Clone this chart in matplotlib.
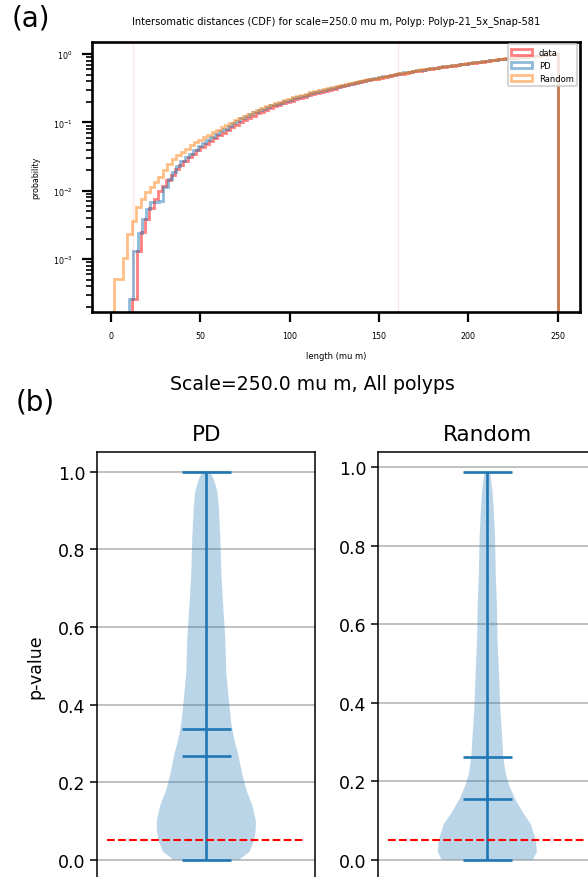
import numpy as np
import matplotlib
matplotlib.use("Agg")
import matplotlib.pyplot as plt

# ---------------- panel (a): cumulative histograms of intersomatic distances
scale_um = 250.0
names_a = ["data", "PD", "Random"]
colors_a = ["red", "tab:blue", "tab:orange"]
starts_a = [12.1, 10.2, 1.86]  # smallest distance of each sample (bins run start..scale)

cdf_data = [
    0.00026, 0.0013, 0.0025, 0.0038, 0.0056, 0.0076, 0.0098, 0.0118, 0.0145, 0.0172,
    0.0205, 0.0235, 0.027, 0.031, 0.035, 0.039, 0.044, 0.049, 0.054, 0.059,
    0.065, 0.071, 0.078, 0.085, 0.093, 0.101, 0.109, 0.117, 0.126, 0.135,
    0.144, 0.153, 0.162, 0.171, 0.180, 0.189, 0.198, 0.208, 0.218, 0.228,
    0.238, 0.248, 0.258, 0.268, 0.279, 0.290, 0.301, 0.312, 0.324, 0.336,
    0.348, 0.360, 0.373, 0.386, 0.399, 0.412, 0.425, 0.438, 0.451, 0.464,
    0.477, 0.490, 0.503, 0.516, 0.530, 0.544, 0.558, 0.572, 0.586, 0.600,
    0.613, 0.626, 0.639, 0.652, 0.665, 0.678, 0.692, 0.706, 0.720, 0.734,
    0.748, 0.762, 0.776, 0.790, 0.804, 0.818, 0.832, 0.846, 0.860, 0.874,
    0.887, 0.900, 0.913, 0.925, 0.937, 0.950, 0.962, 0.975, 0.988, 1.0,
]
cdf_pd = [
    0.00026, 0.0013, 0.0024, 0.0038, 0.0055, 0.0068, 0.0069, 0.0070, 0.0115, 0.0150,
    0.0185, 0.0230, 0.0270, 0.0310, 0.0350, 0.0395, 0.0445, 0.0495, 0.055, 0.061,
    0.067, 0.074, 0.081, 0.089, 0.097, 0.105, 0.114, 0.123, 0.132, 0.141,
    0.150, 0.159, 0.168, 0.177, 0.186, 0.195, 0.205, 0.215, 0.225, 0.235,
    0.245, 0.255, 0.265, 0.275, 0.286, 0.297, 0.308, 0.320, 0.332, 0.344,
    0.356, 0.368, 0.381, 0.394, 0.407, 0.420, 0.433, 0.446, 0.459, 0.472,
    0.485, 0.498, 0.511, 0.524, 0.537, 0.551, 0.565, 0.579, 0.593, 0.606,
    0.619, 0.632, 0.645, 0.658, 0.671, 0.684, 0.697, 0.711, 0.725, 0.739,
    0.753, 0.767, 0.781, 0.795, 0.809, 0.823, 0.837, 0.851, 0.865, 0.879,
    0.892, 0.904, 0.916, 0.928, 0.940, 0.952, 0.964, 0.976, 0.988, 1.0,
]
cdf_random = [
    0.00051, 0.00051, 0.00104, 0.0023, 0.0036, 0.0058, 0.0076, 0.0096, 0.0113, 0.0134,
    0.0159, 0.0198, 0.0249, 0.0294, 0.0335, 0.037, 0.041, 0.046, 0.051, 0.056,
    0.061, 0.066, 0.072, 0.078, 0.085, 0.092, 0.099, 0.107, 0.115, 0.123,
    0.132, 0.142, 0.152, 0.162, 0.172, 0.182, 0.192, 0.202, 0.212, 0.222,
    0.233, 0.243, 0.254, 0.264, 0.275, 0.286, 0.296, 0.307, 0.317, 0.328,
    0.340, 0.352, 0.364, 0.377, 0.389, 0.401, 0.413, 0.425, 0.438, 0.450,
    0.464, 0.479, 0.493, 0.508, 0.522, 0.536, 0.551, 0.565, 0.580, 0.594,
    0.607, 0.620, 0.634, 0.647, 0.660, 0.674, 0.687, 0.700, 0.714, 0.727,
    0.742, 0.757, 0.772, 0.787, 0.802, 0.817, 0.832, 0.847, 0.862, 0.877,
    0.889, 0.901, 0.914, 0.926, 0.938, 0.951, 0.963, 0.975, 0.988, 1.0,
]
guide_lines = [12.3, 160.5]

# ---------------- panel (b): p-value distributions (density profiles)
pd_coords = [0.00, 0.02, 0.05, 0.08, 0.10, 0.14, 0.18, 0.22, 0.27, 0.31, 0.35,
             0.40, 0.48, 0.57, 0.65, 0.74, 0.83, 0.91, 0.95, 0.98, 1.00]
pd_density = [33, 43, 48, 49.5, 49.5, 46, 40, 36, 32, 28, 25,
              23, 20, 19, 17, 15, 14, 12.5, 11, 7.5, 4]
pd_stats = {"mean": 0.338, "median": 0.268, "min": 0.0, "max": 1.0}

rnd_coords = [0.00, 0.02, 0.05, 0.09, 0.12, 0.155, 0.19, 0.22, 0.265, 0.31,
              0.39, 0.48, 0.56, 0.65, 0.73, 0.82, 0.90, 0.94, 0.988]
rnd_density = [46, 50, 49, 44, 36, 28, 22, 18.5, 16, 15,
               13, 11.7, 10.3, 9.7, 8.5, 7.8, 6.3, 5.2, 2.8]
rnd_stats = {"mean": 0.261, "median": 0.154, "min": 0.0, "max": 0.988}
alpha_level = 0.05

fig = plt.figure(figsize=(5.88, 8.78), dpi=100)

# ---- (a)
ax = fig.add_axes([0.1565, 0.6438, 0.8299, 0.3077])
for name, color, start, cdf in zip(names_a, colors_a, starts_a,
                                   [cdf_data, cdf_pd, cdf_random]):
    edges = np.linspace(start, scale_um, len(cdf) + 1)
    centers = (edges[:-1] + edges[1:]) / 2
    ax.hist(centers, bins=edges, weights=cdf, histtype="step", log=True,
            color=color, alpha=0.5, lw=2, label=name)
for gx in guide_lines:
    ax.axvline(gx, color="red", alpha=0.1, lw=1)
ax.set_xlim(-10.5, 262.5)
ax.set_ylim(1.7e-4, 1.52)
ax.set_xticks([0, 50, 100, 150, 200, 250])
ax.tick_params(which="major", length=7, width=1.6, labelsize=5.7, pad=7)
ax.tick_params(which="minor", length=4, width=1.2)
for sp in ax.spines.values():
    sp.set_linewidth(1.9)
ax.set_xlabel("length (mu m)", fontsize=6, labelpad=8)
ax.set_ylabel("probability", fontsize=5.7, labelpad=9)
ax.set_title("Intersomatic distances (CDF) for scale=250.0 mu m, "
             "Polyp: Polyp-21_5x_Snap-581", fontsize=7.1, pad=13)
leg = ax.legend(loc="upper right", fontsize=6, handlelength=2.5,
                borderaxespad=0.35)
leg.get_frame().set_linewidth(1.5)
fig.text(31 / 588, 1 - 19 / 878, "(a)", fontsize=20, ha="center", va="center")

# ---- (b)
fig.text(35 / 588, 1 - 403 / 878, "(b)", fontsize=20, ha="center", va="center")
fig.text(312 / 588, 1 - 385 / 878, "Scale=250.0 mu m, All polyps",
         fontsize=13.6, ha="center", va="center")

panels = [
    ("PD", pd_coords, pd_density, pd_stats, (-0.05, 1.05), 0.1655),
    ("Random", rnd_coords, rnd_density, rnd_stats, (-0.0494, 1.0374), 0.6434),
]
for title, coords, dens, st, ylim, left in panels:
    axb = fig.add_axes([left, -0.0024, 0.3707, 0.4861])
    vp = [dict(coords=np.array(coords), vals=np.array(dens, dtype=float), **st)]
    parts = axb.violin(vp, positions=[1], widths=0.5, showmeans=True,
                       showmedians=True, showextrema=True)
    for key in ("cmeans", "cmedians", "cmins", "cmaxes", "cbars"):
        parts[key].set_linewidth(1.9)
    axb.hlines(alpha_level, 0.5, 1.5, colors="red", linestyles="--", lw=1.5)
    axb.set_xlim(0.45, 1.55)
    axb.set_ylim(*ylim)
    axb.set_xticks([])
    axb.set_yticks([0.0, 0.2, 0.4, 0.6, 0.8, 1.0])
    axb.yaxis.grid(True, lw=1.1)
    axb.set_axisbelow(True)
    axb.tick_params(labelsize=12.5, length=5, width=1.1)
    for sp in axb.spines.values():
        sp.set_linewidth(1.1)
    axb.set_title(title, fontsize=15.5, pad=9)
    if title == "PD":
        axb.set_ylabel("p-value", fontsize=12.5, labelpad=10)

fig.savefig("out.png", dpi=100)
